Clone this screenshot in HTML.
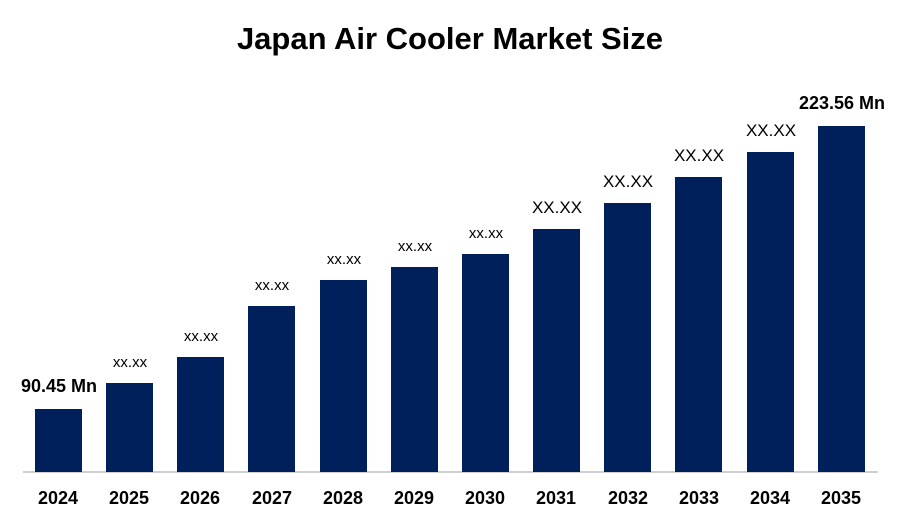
<!DOCTYPE html>
<html><head><style>
body{margin:0;width:900px;height:525px;background:#fff;position:relative;overflow:hidden;font-family:"Liberation Sans",sans-serif}
.t{position:absolute;left:0;width:900px;top:21px;text-align:center;font-weight:bold;font-size:31px;color:#000}
.b{position:absolute;width:47px;background:#00205c;bottom:53px}
.l{position:absolute;width:120px;text-align:center;font-size:15px;color:#000}
.L{font-size:17px}
.B{font-weight:bold;font-size:18px}
.y{position:absolute;top:488px;width:80px;text-align:center;font-weight:bold;font-size:18px}
.ax{position:absolute;left:23px;width:855px;top:471px;height:2px;background:#d0d0d0}
</style></head><body>
<div class="t">Japan Air Cooler Market Size</div>
<div class="ax"></div>
<div class="b" style="left:35px;top:409px"></div>
<div class="b" style="left:106px;top:383px"></div>
<div class="b" style="left:177px;top:357px"></div>
<div class="b" style="left:248px;top:306px"></div>
<div class="b" style="left:320px;top:280px"></div>
<div class="b" style="left:391px;top:267px"></div>
<div class="b" style="left:462px;top:254px"></div>
<div class="b" style="left:533px;top:229px"></div>
<div class="b" style="left:604px;top:203px"></div>
<div class="b" style="left:675px;top:177px"></div>
<div class="b" style="left:747px;top:152px"></div>
<div class="b" style="left:818px;top:126px"></div>
<div class="l B" style="left:-1px;top:376px">90.45 Mn</div>
<div class="l" style="left:70px;top:354px">xx.xx</div>
<div class="l" style="left:141px;top:328px">xx.xx</div>
<div class="l" style="left:212px;top:277px">xx.xx</div>
<div class="l" style="left:284px;top:251px">xx.xx</div>
<div class="l" style="left:355px;top:238px">xx.xx</div>
<div class="l" style="left:426px;top:225px">xx.xx</div>
<div class="l L" style="left:497px;top:198px">XX.XX</div>
<div class="l L" style="left:568px;top:172px">XX.XX</div>
<div class="l L" style="left:639px;top:146px">XX.XX</div>
<div class="l L" style="left:711px;top:121px">XX.XX</div>
<div class="l B" style="left:782px;top:93px">223.56 Mn</div>
<div class="y" style="left:18px">2024</div>
<div class="y" style="left:89px">2025</div>
<div class="y" style="left:160px">2026</div>
<div class="y" style="left:232px">2027</div>
<div class="y" style="left:303px">2028</div>
<div class="y" style="left:374px">2029</div>
<div class="y" style="left:445px">2030</div>
<div class="y" style="left:516px">2031</div>
<div class="y" style="left:588px">2032</div>
<div class="y" style="left:659px">2033</div>
<div class="y" style="left:730px">2034</div>
<div class="y" style="left:801px">2035</div>
</body></html>
